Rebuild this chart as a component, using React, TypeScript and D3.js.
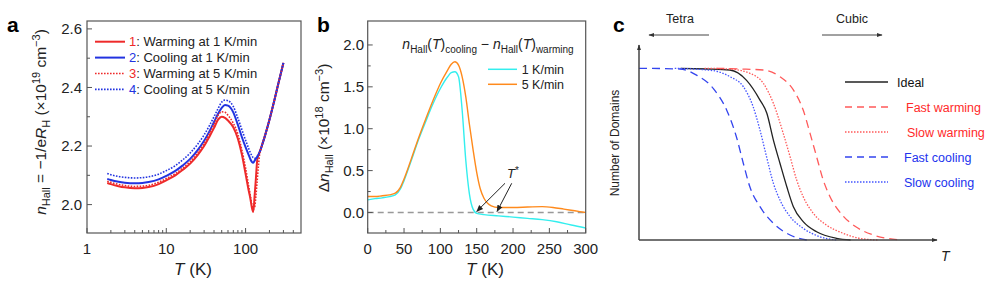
import React from 'react';
import * as d3 from 'd3';

const FONT = "'Liberation Sans', Arial, Helvetica, sans-serif";

// ---------- Panel a data ----------
const tA = [1.8, 2, 2.5, 3, 4, 5, 6, 8, 10, 13, 16, 20, 25, 30, 35, 40, 45, 50, 55, 60, 70, 80, 90, 100, 110, 115, 120, 125, 130, 135, 140, 145, 150, 160, 180, 200, 230, 260, 300];
const warm1 = [2.074, 2.070, 2.063, 2.059, 2.056, 2.057, 2.060, 2.070, 2.083, 2.100, 2.118, 2.140, 2.170, 2.200, 2.232, 2.262, 2.290, 2.300, 2.296, 2.287, 2.264, 2.225, 2.170, 2.105, 2.045, 2.020, 1.990, 1.975, 2.030, 2.090, 2.150, 2.168, 2.178, 2.200, 2.245, 2.290, 2.355, 2.415, 2.484];
const cool1 = [2.088, 2.084, 2.078, 2.075, 2.073, 2.074, 2.077, 2.086, 2.098, 2.115, 2.133, 2.156, 2.187, 2.218, 2.250, 2.282, 2.310, 2.330, 2.340, 2.338, 2.315, 2.272, 2.230, 2.196, 2.168, 2.155, 2.146, 2.143, 2.150, 2.157, 2.162, 2.170, 2.178, 2.200, 2.245, 2.290, 2.355, 2.415, 2.484];
const warm5 = [2.080, 2.076, 2.069, 2.065, 2.062, 2.063, 2.066, 2.076, 2.089, 2.106, 2.124, 2.147, 2.178, 2.209, 2.242, 2.275, 2.305, 2.317, 2.315, 2.305, 2.278, 2.240, 2.185, 2.125, 2.060, 2.030, 2.000, 1.985, 1.990, 2.030, 2.080, 2.130, 2.170, 2.200, 2.245, 2.290, 2.355, 2.415, 2.484];
const cool5 = [2.106, 2.102, 2.096, 2.093, 2.091, 2.092, 2.095, 2.104, 2.116, 2.133, 2.152, 2.176, 2.207, 2.238, 2.270, 2.300, 2.328, 2.350, 2.357, 2.355, 2.335, 2.295, 2.255, 2.220, 2.190, 2.177, 2.167, 2.160, 2.158, 2.160, 2.165, 2.171, 2.178, 2.200, 2.245, 2.290, 2.355, 2.415, 2.484];
const aLegendNums = ['1', '2', '3', '4'];
const aLegendLabels = [': Warming at 1 K/min', ': Cooling at 1 K/min', ': Warming at 5 K/min', ': Cooling at 5 K/min'];
const aYTicks = [2.0, 2.2, 2.4, 2.6];
const aYMinor = [2.1, 2.3, 2.5];
const aXTicks = [1, 10, 100];
const aXMinor = [2, 3, 4, 5, 6, 7, 8, 9, 20, 30, 40, 50, 60, 70, 80, 90, 200, 300, 400];

// ---------- Panel b data ----------
const tB1 = [0, 10, 20, 30, 38, 45, 50, 60, 70, 80, 90, 100, 110, 115, 120, 125, 130, 135, 140, 145, 150, 160, 180, 200, 220, 240, 260, 280, 300];
const dn1 = [0.15, 0.165, 0.175, 0.19, 0.21, 0.28, 0.38, 0.62, 0.87, 1.09, 1.30, 1.48, 1.62, 1.67, 1.68, 1.62, 1.22, 0.62, 0.22, 0.04, -0.01, -0.025, -0.04, -0.055, -0.07, -0.085, -0.11, -0.15, -0.185];
const tB5 = [0, 10, 20, 30, 38, 45, 50, 60, 70, 80, 90, 100, 110, 115, 120, 125, 130, 135, 140, 145, 150, 155, 160, 165, 170, 180, 200, 220, 240, 255, 270, 285, 300];
const dn5 = [0.19, 0.19, 0.2, 0.21, 0.23, 0.3, 0.4, 0.64, 0.89, 1.12, 1.34, 1.54, 1.70, 1.77, 1.80, 1.76, 1.62, 1.38, 1.05, 0.75, 0.48, 0.28, 0.17, 0.11, 0.08, 0.06, 0.06, 0.065, 0.07, 0.06, 0.04, 0.02, 0.0];
const bLegend = ['1 K/min', '5 K/min'];
const bXTicks = [0, 50, 100, 150, 200, 250, 300];
const bXMinor = [25, 75, 125, 175, 225, 275];
const bYTicks = [0, 0.5, 1.0, 1.5, 2.0];
const bYMinor = [0.25, 0.75, 1.25, 1.75];
const tStarTargets = [150, 178];

// ---------- Panel c data (schematic) ----------
const uIdeal = [14, 22.7, 30.5, 36.1, 40.6, 42.9, 45.1, 47.3, 49.6, 51.8, 55.1, 59.6, 66.3, 71];
const vIdeal = [1.0, 0.996, 0.99, 0.93, 0.815, 0.738, 0.582, 0.447, 0.31, 0.194, 0.107, 0.048, 0.01, 0];
const uFastW = [26, 33.9, 41.7, 47.3, 51.8, 55.1, 57.4, 59.6, 61.8, 64.1, 68.5, 72.5, 78.5, 85.2, 87.6];
const vFastW = [1.0, 0.996, 0.99, 0.951, 0.874, 0.757, 0.621, 0.485, 0.35, 0.252, 0.14, 0.08, 0.03, 0.005, 0];
const uSlowW = [22, 30.5, 37.2, 41.7, 45.1, 48.4, 50.7, 52.9, 55.1, 58.5, 62.9, 68.5, 74, 80];
const vSlowW = [1.0, 0.996, 0.971, 0.913, 0.796, 0.621, 0.485, 0.35, 0.252, 0.155, 0.087, 0.039, 0.01, 0];
const uFastC = [0, 13.7, 19.3, 24.9, 29.4, 32.7, 35.0, 37.2, 40.6, 45.1, 50.7, 56.3];
const vFastC = [1.0, 0.996, 0.96, 0.883, 0.757, 0.60, 0.447, 0.31, 0.194, 0.097, 0.029, 0];
const uSlowC = [12, 25, 30.5, 35.0, 38.3, 40.6, 42.8, 45.1, 47.3, 50.7, 55.1, 60.7, 66.3];
const vSlowC = [1.0, 0.986, 0.951, 0.893, 0.776, 0.64, 0.485, 0.33, 0.233, 0.136, 0.068, 0.019, 0];
const cLegend = ['Ideal', 'Fast warming', 'Slow warming', 'Fast cooling', 'Slow cooling'];

const RED = '#ee2a2a';
const BLUE = '#2233e0';
const CYAN = '#33eeee';
const ORANGE = '#ff8a1c';
const AX = '#555';

export default function App() {
  // Panel a
  const ax = d3.scaleLog().domain([1, 500]).range([87, 301]);
  const ay = d3.scaleLinear().domain([1.903, 2.627]).range([233, 21]);
  const lineA = (vals: number[]) =>
    d3.line<number>().x((_, i) => ax(tA[i])).y((d) => ay(d)).curve(d3.curveMonotoneX)(vals) || '';

  // Panel b
  const bx = d3.scaleLinear().domain([0, 300]).range([367.7, 585.7]);
  const by = d3.scaleLinear().domain([-0.245, 2.286]).range([233, 21]);
  const lineB = (ts: number[], vals: number[]) =>
    d3.line<number>().x((_, i) => bx(ts[i])).y((d) => by(d)).curve(d3.curveMonotoneX)(vals) || '';

  // Panel c
  const cx = d3.scaleLinear().domain([0, 100]).range([639, 937]);
  const cy = d3.scaleLinear().domain([0, 1]).range([240, 68.3]);
  const lineC = (us: number[], vs: number[]) =>
    d3.line<number>().x((_, i) => cx(us[i])).y((d) => cy(d)).curve(d3.curveMonotoneX)(vs) || '';

  const aColors = [RED, BLUE, RED, BLUE];
  const aDash = [undefined, undefined, '1.6 1.4', '1.6 1.4'];
  const aWidth = [2, 2, 1.6, 1.6];
  const aData = [warm1, cool1, warm5, cool5];

  const cColors = ['#222', '#ff5a5a', '#ff5a5a', '#3344ee', '#4455ff'];
  const cDash = [undefined, '8 5', '1.5 1.5', '8 5', '1.5 1.5'];
  const cTextColors = ['#111', '#ff2a2a', '#ff2a2a', '#2233ee', '#2233ee'];
  const cTextX = [897, 906, 907, 904, 904];
  const cData: [number[], number[]][] = [[uIdeal, vIdeal], [uFastW, vFastW], [uSlowW, vSlowW], [uFastC, vFastC], [uSlowC, vSlowC]];

  return (
    <div style={{ position: 'absolute', left: 0, top: 0 }}>
      <svg width={996} height={282} style={{ display: 'block', background: '#fff' }} fontFamily={FONT}>
        <defs>
          <marker id="ah" viewBox="0 0 10 10" refX="9" refY="5" markerWidth="7" markerHeight="7" orient="auto-start-reverse" markerUnits="userSpaceOnUse">
            <path d="M0,1 L10,5 L0,9 z" fill="#222" />
          </marker>
          <marker id="ahc" viewBox="0 0 10 10" refX="9" refY="5" markerWidth="6" markerHeight="6" orient="auto-start-reverse" markerUnits="userSpaceOnUse">
            <path d="M0,1.5 L10,5 L0,8.5 z" fill="#333" />
          </marker>
        </defs>

        {/* Panel letters */}
        <text x={7} y={32} fontSize={21} fontWeight="bold">a</text>
        <text x={317} y={32} fontSize={21} fontWeight="bold">b</text>
        <text x={613} y={32} fontSize={21} fontWeight="bold">c</text>

        {/* ================= Panel a ================= */}
        <g>
          {aData.map((d, i) => (
            <path key={i} d={lineA(d)} fill="none" stroke={aColors[i]} strokeWidth={aWidth[i]} strokeDasharray={aDash[i]} />
          ))}
          <rect x={87} y={21} width={214} height={212} fill="none" stroke={AX} strokeWidth={1.2} />
          {aYTicks.map((t) => (
            <g key={t}>
              <line x1={87} x2={92} y1={ay(t)} y2={ay(t)} stroke={AX} />
              <text x={82} y={ay(t)} dy="0.35em" textAnchor="end" fontSize={15} fill="#222">{t.toFixed(1)}</text>
            </g>
          ))}
          {aYMinor.map((t) => (
            <line key={t} x1={87} x2={90} y1={ay(t)} y2={ay(t)} stroke={AX} />
          ))}
          {aXTicks.map((t) => (
            <g key={t}>
              <line x1={ax(t)} x2={ax(t)} y1={233} y2={228} stroke={AX} />
              <text x={ax(t)} y={254} textAnchor="middle" fontSize={15} fill="#222">{t}</text>
            </g>
          ))}
          {aXMinor.map((t) => (
            <line key={t} x1={ax(t)} x2={ax(t)} y1={233} y2={230} stroke={AX} />
          ))}
          <text x={193} y={275} textAnchor="middle" fontSize={17} fill="#222">
            <tspan fontStyle="italic">T</tspan> (K)
          </text>
          <text transform="translate(46,122) rotate(-90)" textAnchor="middle" fontSize={15.5} fill="#222">
            <tspan fontStyle="italic">n</tspan>
            <tspan fontSize={11} dy={4}>Hall</tspan>
            <tspan dy={-4}> = −1/e</tspan>
            <tspan fontStyle="italic">R</tspan>
            <tspan fontSize={11} dy={4}>H</tspan>
            <tspan dy={-4}> (×10</tspan>
            <tspan fontSize={11} dy={-6}>19</tspan>
            <tspan dy={6}> cm</tspan>
            <tspan fontSize={11} dy={-6}>−3</tspan>
            <tspan dy={6}>)</tspan>
          </text>
          {/* legend */}
          {aLegendLabels.map((lab, i) => {
            const yy = 41.7 + i * 15.9;
            return (
              <g key={i}>
                <line x1={95} x2={125} y1={yy} y2={yy} stroke={aColors[i]} strokeWidth={aWidth[i]} strokeDasharray={aDash[i]} />
                <text x={129} y={yy} dy="0.36em" fontSize={13} fill="#222">
                  <tspan fill={aColors[i]}>{aLegendNums[i]}</tspan>{lab}
                </text>
              </g>
            );
          })}
        </g>

        {/* ================= Panel b ================= */}
        <g>
          <line x1={bx(0)} x2={bx(300)} y1={by(0)} y2={by(0)} stroke="#999" strokeWidth={1.3} strokeDasharray="6 4" />
          <path d={lineB(tB1, dn1)} fill="none" stroke={CYAN} strokeWidth={1.4} />
          <path d={lineB(tB5, dn5)} fill="none" stroke={ORANGE} strokeWidth={1.4} />
          <rect x={367.7} y={21} width={218} height={212} fill="none" stroke={AX} strokeWidth={1.2} />
          {bYTicks.map((t) => (
            <g key={t}>
              <line x1={367.7} x2={372.7} y1={by(t)} y2={by(t)} stroke={AX} />
              <text x={364} y={by(t)} dy="0.35em" textAnchor="end" fontSize={15} fill="#222">{t.toFixed(1)}</text>
            </g>
          ))}
          {bYMinor.map((t) => (
            <line key={t} x1={367.7} x2={370.7} y1={by(t)} y2={by(t)} stroke={AX} />
          ))}
          {bXTicks.map((t) => (
            <g key={t}>
              <line x1={bx(t)} x2={bx(t)} y1={233} y2={228} stroke={AX} />
              <text x={bx(t)} y={254} textAnchor="middle" fontSize={15} fill="#222">{t}</text>
            </g>
          ))}
          {bXMinor.map((t) => (
            <line key={t} x1={bx(t)} x2={bx(t)} y1={233} y2={230} stroke={AX} />
          ))}
          <text x={485} y={275} textAnchor="middle" fontSize={17} fill="#222">
            <tspan fontStyle="italic">T</tspan> (K)
          </text>
          <text transform="translate(329,128) rotate(-90)" textAnchor="middle" fontSize={15.5} fill="#222">
            <tspan>Δ</tspan>
            <tspan fontStyle="italic">n</tspan>
            <tspan fontSize={11} dy={4}>Hall</tspan>
            <tspan dy={-4}> (×10</tspan>
            <tspan fontSize={11} dy={-6}>18</tspan>
            <tspan dy={6}> cm</tspan>
            <tspan fontSize={11} dy={-6}>−3</tspan>
            <tspan dy={6}>)</tspan>
          </text>
          <text x={488} y={49} textAnchor="middle" fontSize={14} fill="#222">
            <tspan fontStyle="italic">n</tspan>
            <tspan fontSize={10} dy={3.5}>Hall</tspan>
            <tspan dy={-3.5}>(</tspan>
            <tspan fontStyle="italic">T</tspan>
            <tspan>)</tspan>
            <tspan fontSize={10} dy={3.5}>cooling</tspan>
            <tspan dy={-3.5}> − </tspan>
            <tspan fontStyle="italic">n</tspan>
            <tspan fontSize={10} dy={3.5}>Hall</tspan>
            <tspan dy={-3.5}>(</tspan>
            <tspan fontStyle="italic">T</tspan>
            <tspan>)</tspan>
            <tspan fontSize={10} dy={3.5}>warming</tspan>
          </text>
          {bLegend.map((lab, i) => {
            const yy = 69.3 + i * 15;
            return (
              <g key={lab}>
                <line x1={488} x2={517} y1={yy} y2={yy} stroke={i === 0 ? CYAN : ORANGE} strokeWidth={1.5} />
                <text x={521.7} y={yy} dy="0.36em" fontSize={12.5} fill="#222">{lab}</text>
              </g>
            );
          })}
          <text x={513} y={178} textAnchor="middle" fontSize={13} fill="#222">
            <tspan fontStyle="italic">T</tspan><tspan fontSize={10} dy={-4}>*</tspan>
          </text>
          <line x1={505} y1={183.3} x2={bx(tStarTargets[0])} y2={by(0.0) - 1} stroke="#222" strokeWidth={1} markerEnd="url(#ah)" />
          <line x1={511.7} y1={183.3} x2={bx(tStarTargets[1])} y2={by(0.0) - 1} stroke="#222" strokeWidth={1} markerEnd="url(#ah)" />
        </g>

        {/* ================= Panel c ================= */}
        <g>
          {cData.map(([us, vs], i) => (
            <path key={i} d={lineC(us, vs)} fill="none" stroke={cColors[i]} strokeWidth={1.3} strokeDasharray={cDash[i]} />
          ))}
          <line x1={639} y1={240} x2={639} y2={45} stroke="#444" strokeWidth={1.5} markerEnd="url(#ahc)" />
          <line x1={639} y1={240} x2={937} y2={240} stroke="#444" strokeWidth={1.5} markerEnd="url(#ahc)" />
          <text x={941} y={261} fontSize={14} fontStyle="italic" fill="#222">T</text>
          <text transform="translate(619,143) rotate(-90)" textAnchor="middle" fontSize={12} fill="#222">Number of Domains</text>
          <text x={680} y={22.5} textAnchor="middle" fontSize={12.5} fill="#222">Tetra</text>
          <text x={852} y={22.5} textAnchor="middle" fontSize={12.5} fill="#222">Cubic</text>
          <line x1={709} y1={35} x2={649} y2={35} stroke="#444" strokeWidth={1} markerEnd="url(#ahc)" />
          <line x1={822} y1={35} x2={882} y2={35} stroke="#444" strokeWidth={1} markerEnd="url(#ahc)" />
          {cLegend.map((lab, i) => {
            const yy = 82 + i * 25;
            return (
              <g key={lab}>
                <line x1={845} x2={888} y1={yy} y2={yy} stroke={cColors[i]} strokeWidth={1.3} strokeDasharray={cDash[i] === '8 5' ? '7 5' : cDash[i]} />
                <text x={cTextX[i]} y={yy} dy="0.36em" fontSize={12.5} fill={cTextColors[i]}>{lab}</text>
              </g>
            );
          })}
        </g>
      </svg>
    </div>
  );
}
